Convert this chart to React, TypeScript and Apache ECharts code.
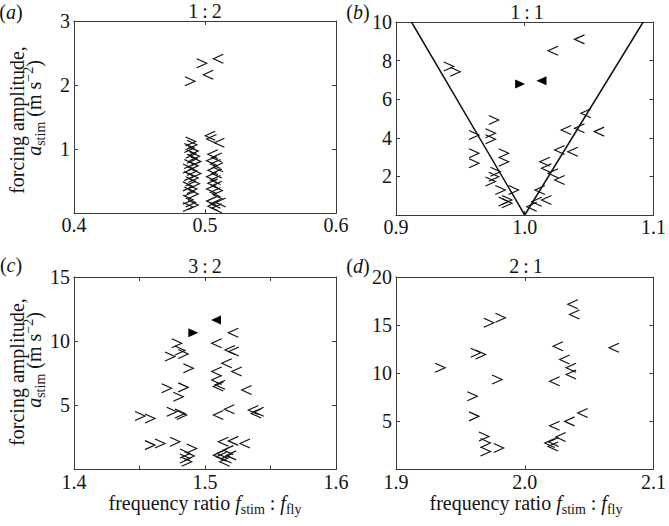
import React, { useEffect, useRef } from 'react';
import * as echarts from 'echarts';

const FONT = 'Liberation Serif';
const INK = '#141414';
const FRAME = '#3a3a3a';
const FS = 20;
const SUB_FS = 14;

// ---------- axis ranges / ticks ----------
const aXRange = [0.4, 0.6];
const aYRange = [0, 3];
const bXRange = [0.9, 1.1];
const bYRange = [0, 10];
const cXRange = [1.4, 1.6];
const cYRange = [0, 15];
const dXRange = [1.9, 2.1];
const dYRange = [0, 20];
const xInterval = 0.1;
const aYInterval = 1;
const bYInterval = 2;
const cYInterval = 5;
const dYInterval = 5;

const panelTitles = ['1\u2009:\u20092', '1\u2009:\u20091', '3\u2009:\u20092', '2\u2009:\u20091'];
const panelLetters = ['a', 'b', 'c', 'd'];

// ---------- panel (a) 1:2 ----------
const aRight: number[][] = [
  [0.4885, 2.06], [0.4975, 2.34],
  [0.489, 1.12], [0.490, 1.07], [0.488, 1.02], [0.491, 0.97], [0.489, 0.93], [0.492, 0.89],
  [0.490, 0.85], [0.493, 0.81], [0.488, 0.77], [0.491, 0.74], [0.487, 0.70], [0.490, 0.66],
  [0.493, 0.62], [0.488, 0.58], [0.491, 0.55], [0.489, 0.50], [0.492, 0.46], [0.487, 0.42],
  [0.490, 0.38], [0.488, 0.34], [0.491, 0.30], [0.487, 0.21], [0.489, 0.17], [0.491, 0.13],
  [0.487, 0.10],
];
const aLeft: number[][] = [
  [0.5025, 2.16], [0.5102, 2.41],
  [0.504, 1.21], [0.505, 1.16], [0.511, 1.10], [0.506, 0.92], [0.509, 0.87], [0.505, 0.82],
  [0.508, 0.77], [0.510, 0.72], [0.506, 0.67], [0.509, 0.62], [0.505, 0.57], [0.508, 0.52],
  [0.506, 0.47], [0.509, 0.43], [0.505, 0.38], [0.508, 0.33], [0.510, 0.29], [0.505, 0.19],
  [0.508, 0.15], [0.512, 0.17], [0.506, 0.11], [0.509, 0.08],
];

// ---------- panel (b) 1:1 ----------
const bLine: number[][] = [[0.912, 10], [1.0, 0], [1.092, 10]];
const bRight: number[][] = [
  [0.941, 7.70], [0.946, 7.42], [0.9759, 4.92], [0.9606, 4.15], [0.9734, 4.23], [0.9734, 3.92],
  [0.9606, 3.20], [0.9606, 2.68], [0.9836, 3.20], [0.9836, 2.76], [0.9772, 2.24], [0.9759, 1.98],
  [0.9734, 1.73], [0.981, 1.30], [0.9913, 1.30], [0.9862, 0.78], [0.9862, 0.61], [0.9835, 0.70],
];
const bLeft: number[][] = [
  [1.0425, 9.10], [1.022, 8.51], [1.0322, 4.40], [1.0425, 4.49], [1.0578, 4.32], [1.0475, 5.27],
  [1.0271, 3.37], [1.0373, 3.28], [1.0156, 2.76], [1.0169, 2.42], [1.022, 2.16], [1.0271, 1.81],
  [1.0118, 1.30], [1.0169, 0.78], [1.0093, 0.69], [1.0054, 0.43],
];
const bRightFilled: number[][] = [[0.9964, 6.79]];
const bLeftFilled: number[][] = [[1.013, 6.96]];

// ---------- panel (c) 3:2 ----------
const cRight: number[][] = [
  [1.4784, 9.84], [1.4809, 9.27], [1.4733, 8.80], [1.4834, 9.0], [1.4873, 7.89], [1.4707, 6.33],
  [1.4834, 6.4], [1.4796, 5.67], [1.4504, 4.16], [1.458, 3.98], [1.4746, 4.5], [1.4809, 4.37],
  [1.4822, 4.25], [1.458, 1.9], [1.4656, 2.03], [1.4771, 2.16], [1.4898, 1.64], [1.4847, 1.25],
  [1.4847, 0.86], [1.486, 0.6], [1.488, 1.05],
];
const cLeft: number[][] = [
  [1.5216, 10.65], [1.5089, 9.84], [1.5191, 9.32], [1.522, 9.2], [1.5166, 8.28], [1.5242, 7.63],
  [1.5089, 7.63], [1.5089, 6.98], [1.5102, 6.46], [1.5115, 6.6], [1.5318, 6.2], [1.5102, 4.24],
  [1.5186, 4.69], [1.5369, 4.63], [1.539, 4.37], [1.541, 4.5], [1.514, 2.16], [1.5216, 2.23],
  [1.5305, 2.03], [1.5102, 1.12], [1.513, 1.25], [1.5178, 1.51], [1.5165, 0.86], [1.52, 1.1],
  [1.515, 0.6], [1.5125, 1.0],
];
const cRightFilled: number[][] = [[1.4911, 10.65]];
const cLeftFilled: number[][] = [[1.5084, 11.64]];

// ---------- panel (d) 2:1 ----------
const dRight: number[][] = [
  [1.9721, 15.25], [1.9811, 15.77], [1.9619, 12.12], [1.9657, 11.95], [1.9343, 10.56], [1.9785, 9.34],
  [1.9593, 7.6], [1.9606, 5.52], [1.9683, 3.44], [1.9695, 2.75], [1.9695, 1.88], [1.9798, 2.23],
];
const dLeft: number[][] = [
  [2.0373, 17.16], [2.0386, 16.1], [2.0258, 12.81], [2.0693, 12.64], [2.031, 11.43], [2.036, 10.56],
  [2.036, 9.86], [2.0232, 9.17], [2.045, 5.87], [2.0348, 5.0], [2.0232, 4.55], [2.0194, 2.75],
  [2.0225, 2.85], [2.0279, 3.37], [2.022, 2.4],
];

// ---------- layout ----------
const GRIDS = [
  { left: 74, top: 21, width: 262, height: 192.3 },
  { left: 396, top: 22, width: 261, height: 193 },
  { left: 74, top: 277, width: 262, height: 192.5 },
  { left: 396, top: 277, width: 261, height: 192.5 },
];

const SYM_RIGHT = 'path://M0,0L10,5L0,10';
const SYM_LEFT = 'path://M10,0L0,5L10,10';
const SYM_RIGHT_FILLED = 'path://M0,0L10,5L0,10Z';
const SYM_LEFT_FILLED = 'path://M10,0L0,5L10,10Z';

function scatter(data: number[][], symbol: string, gi: number, filled = false) {
  return {
    type: 'scatter',
    xAxisIndex: gi * 2,
    yAxisIndex: gi * 2,
    data,
    symbol,
    symbolSize: [10, 9],
    itemStyle: filled
      ? { color: '#000', borderWidth: 0, opacity: 1 }
      : { color: 'transparent', borderColor: INK, borderWidth: 1.2, opacity: 1 },
    emphasis: { disabled: true },
    silent: true,
    z: 3,
  };
}

function makeAxes(gi: number, xr: number[], yr: number[], yi: number, minorX: boolean) {
  const base = {
    gridIndex: gi,
    type: 'value',
    axisLine: { show: true, onZero: false, lineStyle: { color: FRAME, width: 1 } },
    axisTick: { show: true, inside: true, length: 4, lineStyle: { color: FRAME, width: 1 } },
    splitLine: { show: false },
  };
  const minor = minorX
    ? { show: true, splitNumber: 2, length: 4, lineStyle: { color: FRAME, width: 1 } }
    : { show: false };
  const labelStyle = { fontFamily: FONT, fontSize: FS, color: INK };
  const xs = [
    {
      ...base, position: 'bottom', min: xr[0], max: xr[1], interval: xInterval, minorTick: minor,
      axisLabel: {
        ...labelStyle, show: true, margin: 2, showMinLabel: true, showMaxLabel: true,
        formatter: (v: number) => v.toFixed(1),
      },
    },
    {
      ...base, position: 'top', min: xr[0], max: xr[1], interval: xInterval, minorTick: minor,
      axisLabel: { show: false },
    },
  ];
  const ys = [
    {
      ...base, position: 'left', min: yr[0], max: yr[1], interval: yi,
      axisLabel: {
        ...labelStyle, show: true, margin: 4, showMinLabel: true, showMaxLabel: true,
        formatter: (v: number) => (Math.abs(v) < 1e-9 ? '' : String(Math.round(v))),
      },
    },
    {
      ...base, position: 'right', min: yr[0], max: yr[1], interval: yi,
      axisLabel: { show: false },
    },
  ];
  return { xs, ys };
}

const rich = {
  n: { fontFamily: FONT, fontSize: FS, fill: INK },
  i: { fontFamily: FONT, fontSize: FS, fontStyle: 'italic', fill: INK },
};

function txt(x: number, y: number, text: string) {
  return {
    type: 'text',
    x,
    y,
    silent: true,
    style: {
      text,
      fill: INK,
      fontFamily: FONT,
      fontSize: FS,
      align: 'center',
      verticalAlign: 'middle',
      rich,
    },
  };
}

type Piece = { t: string; size?: number; it?: boolean; dy?: number };

let measureCtx: CanvasRenderingContext2D | null = null;
function measure(p: Piece) {
  if (!measureCtx) measureCtx = document.createElement('canvas').getContext('2d');
  const size = p.size || FS;
  if (!measureCtx) return p.t.length * size * 0.45;
  measureCtx.font = `${p.it ? 'italic ' : ''}${size}px "${FONT}"`;
  return measureCtx.measureText(p.t).width;
}

// compose a line of text pieces centred on (cx, cy); rotated reads bottom-to-top
function compose(pieces: Piece[], cx: number, cy: number, rotated: boolean) {
  const widths = pieces.map(measure);
  const total = widths.reduce((s, w) => s + w, 0);
  let s = -total / 2;
  const out: any[] = [];
  pieces.forEach((p, k) => {
    const dy = p.dy || 0;
    const x = rotated ? cx + dy : cx + s;
    const y = rotated ? cy - s : cy + dy;
    out.push({
      type: 'text',
      x,
      y,
      rotation: rotated ? Math.PI / 2 : 0,
      silent: true,
      style: {
        text: p.t,
        fill: INK,
        fontFamily: FONT,
        fontSize: p.size || FS,
        fontStyle: p.it ? 'italic' : 'normal',
        align: 'left',
        verticalAlign: 'middle',
      },
    });
    s += widths[k];
  });
  return out;
}

const SUB_DY = 6.5;
const SUP_DY = -5.5;

export default function App() {
  const ref = useRef<HTMLDivElement>(null);
  useEffect(() => {
    if (!ref.current) return;
    const chart = echarts.init(ref.current, undefined, { renderer: 'svg' });
    const axA = makeAxes(0, aXRange, aYRange, aYInterval, false);
    const axB = makeAxes(1, bXRange, bYRange, bYInterval, false);
    const axC = makeAxes(2, cXRange, cYRange, cYInterval, true);
    const axD = makeAxes(3, dXRange, dYRange, dYInterval, false);

    const letterPos = [[11, 12], [358, 12], [11, 265], [358, 266]];
    const titlePos = [[205, 11], [527, 12], [205, 266], [526, 266]];

    let graphic: any[] = [];
    panelLetters.forEach((l, k) => {
      graphic.push(txt(letterPos[k][0], letterPos[k][1], `{n|(}{i|${l}}{n|)}`));
      graphic.push(txt(titlePos[k][0], titlePos[k][1], `{n|${panelTitles[k]}}`));
    });
    const yLine1: Piece[] = [{ t: 'forcing amplitude,' }];
    const yLine2: Piece[] = [
      { t: 'a', it: true },
      { t: 'stim', size: SUB_FS, dy: SUB_DY },
      { t: ' (m s' },
      { t: '\u22122', size: SUB_FS, dy: SUP_DY },
      { t: ')' },
    ];
    [[120, 108], [372, 360]].forEach(([c1, c2]) => {
      graphic = graphic.concat(compose(yLine1, 17, c1, true));
      graphic = graphic.concat(compose(yLine2, 34, c2, true));
    });
    const xName: Piece[] = [
      { t: 'frequency ratio ' },
      { t: 'f', it: true },
      { t: 'stim', size: SUB_FS, dy: SUB_DY },
      { t: ' : ' },
      { t: 'f', it: true },
      { t: 'fly', size: SUB_FS, dy: SUB_DY },
    ];
    graphic = graphic.concat(compose(xName, 205, 502.5, false));
    graphic = graphic.concat(compose(xName, 526, 502.5, false));

    chart.setOption({
      animation: false,
      backgroundColor: '#ffffff',
      grid: GRIDS.map((g) => ({ ...g, containLabel: false })),
      xAxis: [...axA.xs, ...axB.xs, ...axC.xs, ...axD.xs],
      yAxis: [...axA.ys, ...axB.ys, ...axC.ys, ...axD.ys],
      series: [
        scatter(aRight, SYM_RIGHT, 0),
        scatter(aLeft, SYM_LEFT, 0),
        {
          type: 'line',
          xAxisIndex: 2,
          yAxisIndex: 2,
          data: bLine,
          symbol: 'none',
          lineStyle: { color: INK, width: 1.5 },
          silent: true,
          z: 2,
        },
        scatter(bRight, SYM_RIGHT, 1),
        scatter(bLeft, SYM_LEFT, 1),
        scatter(bRightFilled, SYM_RIGHT_FILLED, 1, true),
        scatter(bLeftFilled, SYM_LEFT_FILLED, 1, true),
        scatter(cRight, SYM_RIGHT, 2),
        scatter(cLeft, SYM_LEFT, 2),
        scatter(cRightFilled, SYM_RIGHT_FILLED, 2, true),
        scatter(cLeftFilled, SYM_LEFT_FILLED, 2, true),
        scatter(dRight, SYM_RIGHT, 3),
        scatter(dLeft, SYM_LEFT, 3),
      ],
      graphic,
    });
    return () => chart.dispose();
  }, []);
  return (
    <div
      ref={ref}
      style={{ position: 'absolute', left: 0, top: 0, width: 669, height: 526, background: '#fff' }}
    />
  );
}
